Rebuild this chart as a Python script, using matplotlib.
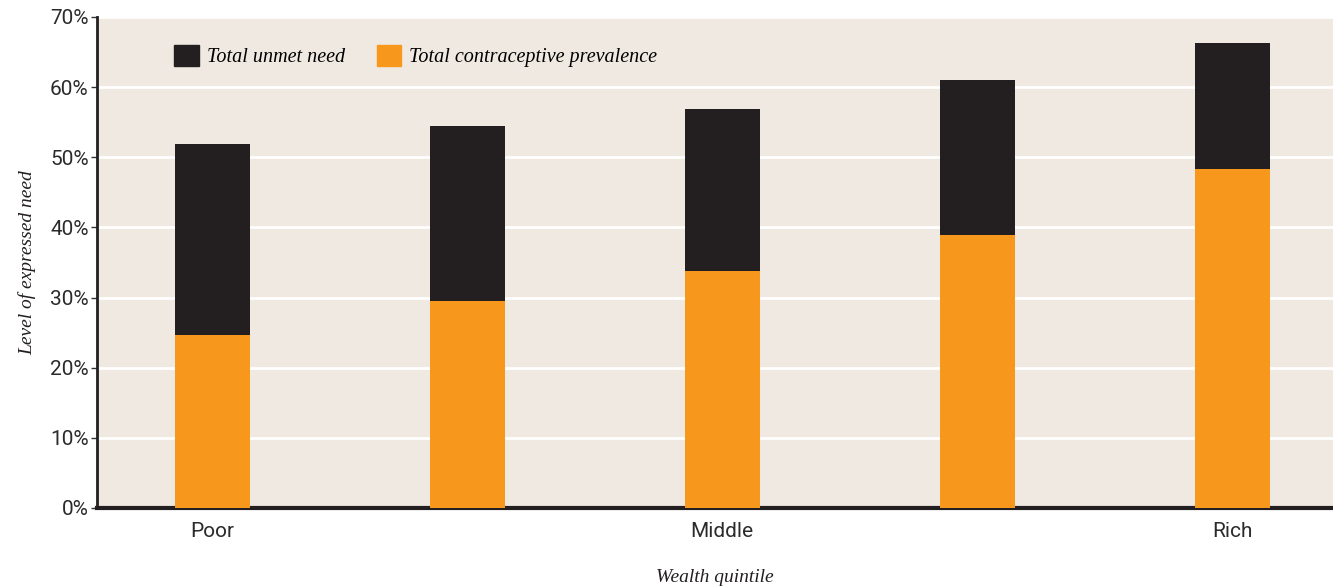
import matplotlib.pyplot as plt
from matplotlib.patches import Patch

quintiles = ['Poor', '', 'Middle', '', 'Rich']
contraceptive = [24.7, 29.5, 33.8, 38.9, 48.3]
total_need = [51.9, 54.5, 56.9, 61.0, 66.3]
unmet = [t - c for t, c in zip(total_need, contraceptive)]
y_ticks = [0, 10, 20, 30, 40, 50, 60, 70]

orange = '#F7981D'
dark = '#231F20'
bg = '#F0E9E2'
tick_font = ['Roboto', 'DejaVu Sans']
label_font = ['Liberation Serif', 'DejaVu Serif']

fig = plt.figure(figsize=(13.33, 5.87), dpi=100)
ax = fig.add_axes([0.0728, 0.1346, 0.9272, 0.8365])
ax.set_facecolor(bg)

x = list(range(len(quintiles)))
ax.bar(x, contraceptive, width=0.294, color=orange, zorder=3)
ax.bar(x, unmet, width=0.294, bottom=contraceptive, color=dark, zorder=3)

ax.set_xlim(-0.451, 4.396)
ax.set_ylim(0, 70)
ax.set_yticks(y_ticks)
ax.set_yticklabels([f'{v}%' for v in y_ticks], fontfamily=tick_font,
                   fontweight='normal', fontsize=15)
ax.set_xticks(x)
ax.set_xticklabels(quintiles, fontfamily=tick_font, fontweight='normal',
                   fontsize=15)
ax.tick_params(axis='x', length=0, pad=10, labelcolor='#2b2b2b')
ax.tick_params(axis='y', length=4, width=1, direction='out', pad=2,
               color='#333333', labelcolor='#2b2b2b')
ax.yaxis.grid(True, color='white', linewidth=2, zorder=1)
ax.set_axisbelow(True)

for side in ['top', 'right']:
    ax.spines[side].set_visible(False)
ax.spines['left'].set_linewidth(2)
ax.spines['left'].set_color(dark)
ax.spines['bottom'].set_linewidth(3)
ax.spines['bottom'].set_color(dark)

ax.set_ylabel('Level of expressed need', fontfamily=label_font, style='italic',
              fontsize=14, color=dark, labelpad=10)
ax.set_xlabel('Wealth quintile', fontfamily=label_font, style='italic',
              fontsize=14, color=dark, labelpad=20)

handles = [Patch(color=dark, label='Total unmet need'),
           Patch(color=orange, label='Total contraceptive prevalence')]
ax.legend(handles=handles, loc='upper left', bbox_to_anchor=(0.048, 0.98),
          ncol=2, frameon=False, handlelength=1.2, handleheight=1.2,
          handletextpad=0.4, columnspacing=1.6,
          prop={'family': label_font, 'style': 'italic', 'size': 14.5})

fig.savefig('out.png', dpi=100, facecolor='white')
